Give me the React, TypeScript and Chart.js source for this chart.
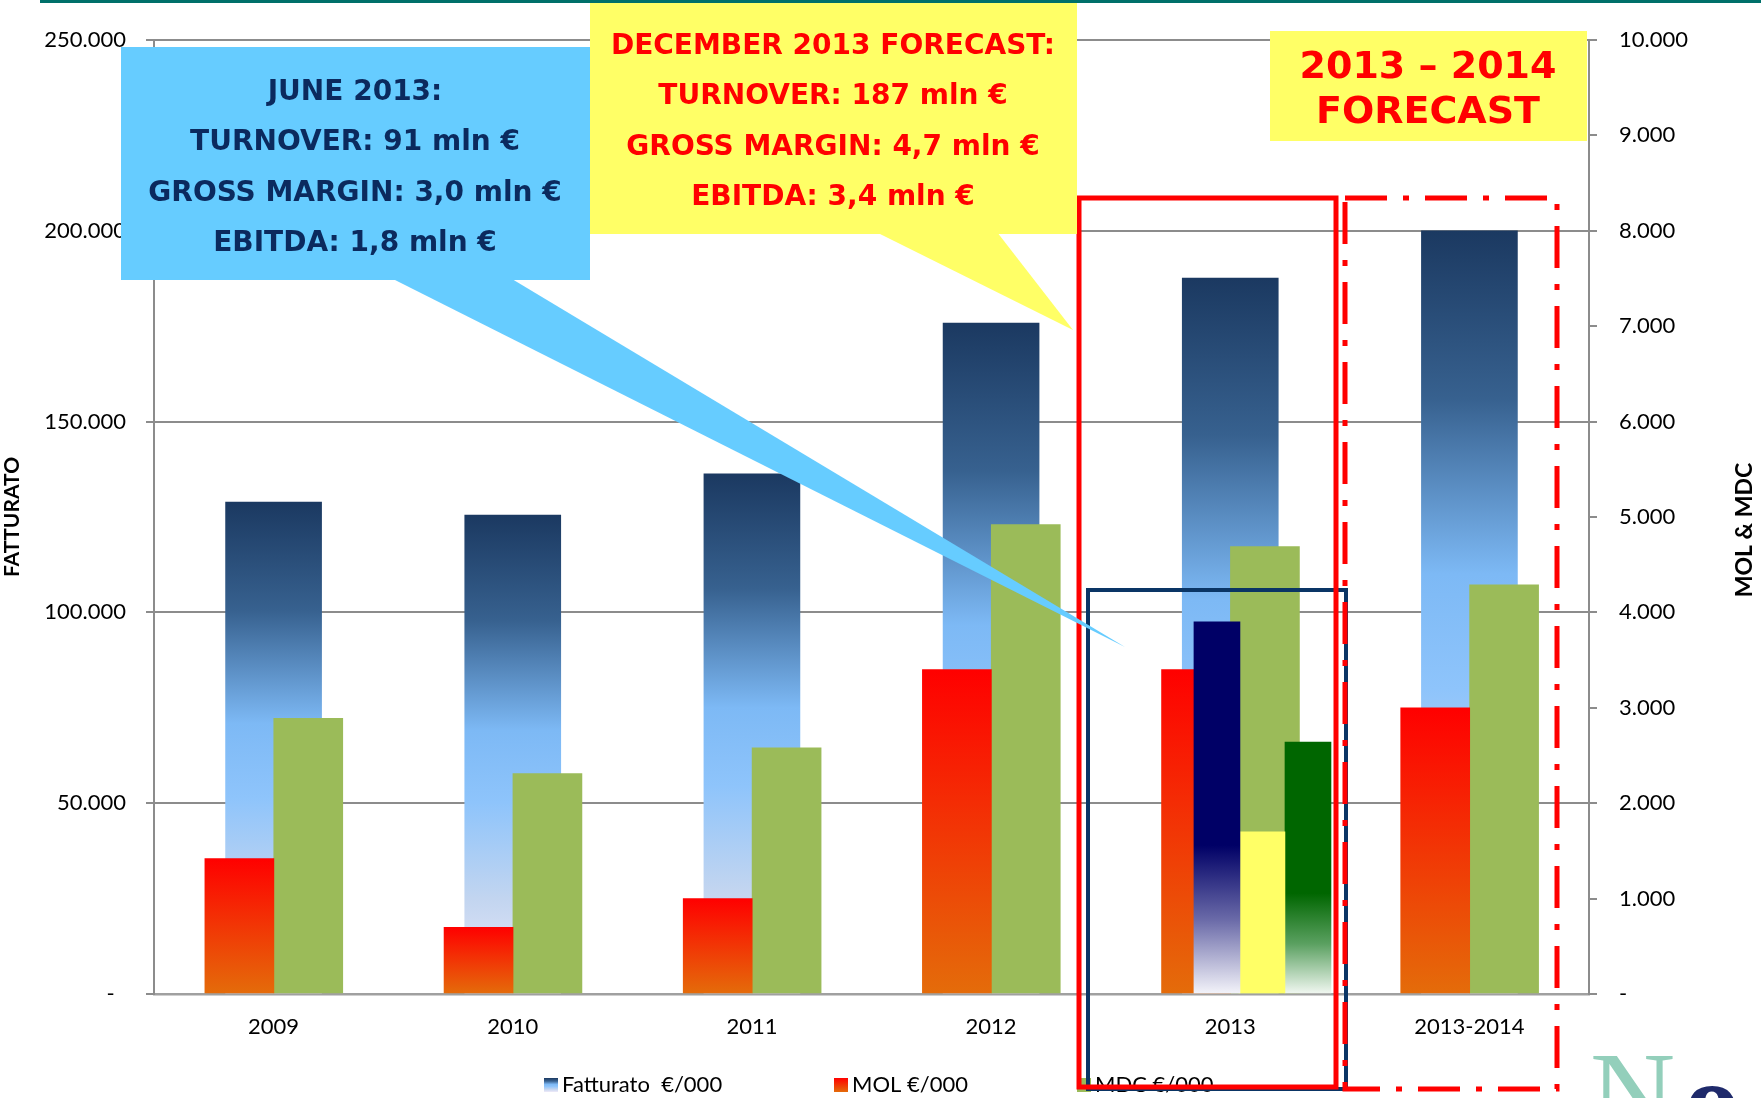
import React, { useEffect, useRef } from 'react';
import { Chart, registerables } from 'chart.js';

Chart.register(...registerables);

// ---------- data ----------
const categories = ['2009', '2010', '2011', '2012', '2013', '2013-2014'];
const fatturato = [128900, 125500, 136300, 175800, 187600, 200000];
const mol = [1420, 700, 1000, 3400, 3400, 3000];
const mdc = [2890, 2310, 2580, 4920, 4690, 4290];

// June 2013 overlay bars (drawn on the 2013 category)
const juneCategory = '2013';
const juneTurnover = [97500];
const juneEbitda = [1700];
const juneMargin = [2640];

const leftMax = 250000;
const leftStep = 50000;
const rightMax = 10000;
const rightStep = 1000;

const seriesLabels = ['Fatturato  €/000', 'MOL €/000', 'MDC €/000'];
const leftTitle = 'FATTURATO';
const rightTitle = 'MOL & MDC';
const blueNote = ['JUNE 2013:', 'TURNOVER: 91 mln €', 'GROSS MARGIN: 3,0 mln €', 'EBITDA: 1,8 mln €'];
const yellowNote = ['DECEMBER 2013 FORECAST:', 'TURNOVER: 187 mln €', 'GROSS MARGIN: 4,7 mln €', 'EBITDA: 3,4 mln €'];
const forecastNote = ['2013 – 2014', 'FORECAST'];

// ---------- styles ----------
const W = 1761;
const H = 1098;

const fattStops: [number, string][] = [
  [0, '#1b3961'],
  [0.22, '#37618f'],
  [0.45, '#7db9f5'],
  [0.6, '#8ec4fb'],
  [0.8, '#c2d5f0'],
  [1, '#efeaf8'],
];
const molStops: [number, string][] = [
  [0, '#ff0000'],
  [1, '#e46c0a'],
];
const navyStops: [number, string][] = [
  [0, '#000066'],
  [0.6, '#000066'],
  [0.8, '#6a6aa8'],
  [1, '#f4f4fa'],
];
const greenStops: [number, string][] = [
  [0, '#006600'],
  [0.6, '#006600'],
  [0.8, '#5aa060'],
  [1, '#f2f8f2'],
];

function vGrad(stops: [number, string][]) {
  return (c: any) => {
    const chart = c.chart;
    if (!chart.chartArea || c.type !== 'data' || !c.parsed) return stops[0][1];
    const ds = chart.data.datasets[c.datasetIndex];
    const ys = chart.scales[ds.yAxisID];
    const top = ys.getPixelForValue(c.parsed.y);
    const bot = ys.getPixelForValue(0);
    if (!isFinite(top) || !isFinite(bot) || Math.abs(bot - top) < 1) return stops[0][1];
    const g = chart.ctx.createLinearGradient(0, top, 0, bot);
    stops.forEach(([o, col]) => g.addColorStop(o, col));
    return g;
  };
}

// hidden linear index axis whose category centres are shifted by `shift` category widths
function shiftedAxis(shift: number) {
  return {
    type: 'linear',
    display: false,
    offset: false,
    bounds: 'data',
    grace: 0,
    min: -0.5 - shift,
    max: categories.length - 0.5 - shift,
  };
}

const asPoints = (arr: number[]) => arr.map((y, i) => ({ x: i, y }));

const dotFmt = (v: number) => String(Math.round(v)).replace(/\B(?=(\d{3})+(?!\d))/g, '.');

function drawCentered(ctx: CanvasRenderingContext2D, lines: string[], cx: number, ys: number[], font: string, color: string) {
  ctx.font = font;
  ctx.fillStyle = color;
  ctx.textAlign = 'center';
  ctx.textBaseline = 'middle';
  lines.forEach((t, i) => ctx.fillText(t, cx, ys[i]));
}

const decorPlugin = {
  id: 'decor',
  afterDraw(chart: any) {
    const ctx: CanvasRenderingContext2D = chart.ctx;
    ctx.save();

    // right axis title (reads bottom-to-top)
    ctx.save();
    ctx.translate(1745, 530);
    ctx.rotate(-Math.PI / 2);
    ctx.font = 'bold 23px Lato';
    ctx.fillStyle = '#000';
    ctx.textAlign = 'center';
    ctx.textBaseline = 'middle';
    ctx.fillText(rightTitle, 0, 0);
    ctx.restore();

    // legend
    const legendX = [544, 834, 1077];
    const ly = 1085;
    const markerFills = [fattStops, molStops, null];
    seriesLabels.forEach((lab, i) => {
      const x = legendX[i];
      const stops = markerFills[i];
      if (stops) {
        const g = ctx.createLinearGradient(0, ly - 7, 0, ly + 7);
        stops.forEach(([o, col]) => g.addColorStop(o, col));
        ctx.fillStyle = g;
      } else {
        ctx.fillStyle = '#9bbb59';
      }
      ctx.fillRect(x, ly - 7, 14, 14);
      ctx.font = '22px Lato';
      ctx.fillStyle = '#000';
      ctx.textAlign = 'left';
      ctx.textBaseline = 'middle';
      ctx.fillText(lab, x + 18, ly);
    });

    // navy box around June 2013 bars
    ctx.strokeStyle = '#0a3565';
    ctx.lineWidth = 4;
    ctx.strokeRect(1088, 590, 258, 499);

    // red solid box (2013)
    ctx.strokeStyle = '#ff0000';
    ctx.lineWidth = 5;
    ctx.strokeRect(1079, 198, 257, 889);

    // red dash-dot box (2013-2014)
    ctx.setLineDash([42, 16, 6, 16]);
    ctx.strokeRect(1345, 198, 212, 891);
    ctx.setLineDash([]);

    // blue callout
    ctx.fillStyle = '#66ccff';
    ctx.beginPath();
    ctx.moveTo(393, 279);
    ctx.lineTo(512, 279);
    ctx.lineTo(1125, 647);
    ctx.closePath();
    ctx.fill();
    ctx.fillRect(121, 47, 469, 233);
    drawCentered(ctx, blueNote, 355, [93, 143, 194, 244], 'bold 28px "DejaVu Sans"', '#0b2a5e');

    // yellow callout
    ctx.fillStyle = '#ffff66';
    ctx.beginPath();
    ctx.moveTo(876, 232);
    ctx.lineTo(997, 232);
    ctx.lineTo(1073, 330);
    ctx.closePath();
    ctx.fill();
    ctx.fillRect(590, 0, 487, 234);
    drawCentered(ctx, yellowNote, 833, [47, 97, 148, 198], 'bold 28px "DejaVu Sans"', '#ff0000');

    // forecast label
    ctx.fillStyle = '#ffff66';
    ctx.fillRect(1270, 31, 317, 110);
    drawCentered(ctx, forecastNote, 1428, [68, 113], 'bold 38px "DejaVu Sans"', '#ff0000');

    // logo fragment bottom-right
    ctx.textAlign = 'left';
    ctx.textBaseline = 'alphabetic';
    ctx.font = '118px "Liberation Serif"';
    ctx.fillStyle = '#93cfbb';
    ctx.fillText('N', 1590, 1134);
    ctx.font = 'bold 112px "Liberation Serif"';
    ctx.fillStyle = '#1f2a6b';
    ctx.fillText('o', 1684, 1139);

    // teal rule at top
    ctx.fillStyle = '#00706a';
    ctx.fillRect(40, 0, W - 40, 3);

    ctx.restore();
  },
};

export default function App() {
  const ref = useRef<HTMLCanvasElement>(null);

  useEffect(() => {
    if (!ref.current) return;
    Chart.defaults.font.family = 'Lato';
    Chart.defaults.color = '#000';
    const juneIdx = categories.indexOf(juneCategory);

    const chart = new Chart(ref.current, {
      type: 'bar',
      data: {
        labels: categories,
        datasets: [
          {
            label: seriesLabels[0],
            data: fatturato,
            xAxisID: 'x',
            yAxisID: 'y',
            backgroundColor: vGrad(fattStops),
            grouped: false,
            barThickness: 96,
            order: 3,
          },
          {
            label: seriesLabels[1],
            data: asPoints(mol),
            xAxisID: 'xMol',
            yAxisID: 'y1',
            backgroundColor: vGrad(molStops),
            grouped: false,
            barThickness: 69,
            order: 2,
          },
          {
            label: seriesLabels[2],
            data: asPoints(mdc),
            xAxisID: 'xMdc',
            yAxisID: 'y1',
            backgroundColor: '#9bbb59',
            grouped: false,
            barThickness: 69,
            order: 2,
          },
          {
            label: 'Fatturato giugno 2013',
            data: [{ x: juneIdx, y: juneTurnover[0] }],
            xAxisID: 'xNavy',
            yAxisID: 'y',
            backgroundColor: vGrad(navyStops),
            grouped: false,
            barThickness: 46,
            order: 1,
          },
          {
            label: 'MOL giugno 2013',
            data: [{ x: juneIdx, y: juneEbitda[0] }],
            xAxisID: 'xYellow',
            yAxisID: 'y1',
            backgroundColor: '#ffff66',
            grouped: false,
            barThickness: 46,
            order: 1,
          },
          {
            label: 'MDC giugno 2013',
            data: [{ x: juneIdx, y: juneMargin[0] }],
            xAxisID: 'xGreen',
            yAxisID: 'y1',
            backgroundColor: vGrad(greenStops),
            grouped: false,
            barThickness: 46,
            order: 1,
          },
        ] as any,
      },
      options: {
        responsive: false,
        animation: false,
        devicePixelRatio: 1,
        layout: { padding: { top: 40, left: 0, right: 0, bottom: 0 } },
        plugins: {
          legend: { display: false },
          tooltip: { enabled: false },
        },
        scales: {
          x: {
            type: 'category',
            labels: categories,
            offset: true,
            grid: { display: false },
            border: { display: true, color: '#a0a0a0', width: 2.5 },
            ticks: { font: { size: 22 }, color: '#000', padding: 12, maxRotation: 0, autoSkip: false },
            afterFit: (s: any) => {
              s.height = 104;
            },
          },
          xMol: shiftedAxis(-0.143),
          xMdc: shiftedAxis(0.145),
          xNavy: shiftedAxis(-0.0556),
          xYellow: shiftedAxis(0.1325),
          xGreen: shiftedAxis(0.325),
          y: {
            position: 'left',
            min: 0,
            max: leftMax,
            ticks: {
              stepSize: leftStep,
              font: { size: 22 },
              color: '#000',
              padding: 20,
              callback: (v: any) => (Number(v) === 0 ? '-  ' : dotFmt(Number(v))),
            },
            grid: { color: '#8c8c8c', lineWidth: 2, tickLength: 8 },
            border: { display: true, color: '#8c8c8c', width: 2 },
            title: {
              display: true,
              text: leftTitle,
              font: { size: 21, weight: 'bold' },
              color: '#000',
              padding: 0,
            },
            afterFit: (s: any) => {
              s.width = 154;
            },
          },
          y1: {
            position: 'right',
            min: 0,
            max: rightMax,
            ticks: {
              stepSize: rightStep,
              font: { size: 22 },
              color: '#000',
              padding: 22,
              callback: (v: any) => (Number(v) === 0 ? '-' : dotFmt(Number(v))),
            },
            grid: { drawOnChartArea: false, color: '#8c8c8c', lineWidth: 2, tickLength: 8 },
            border: { display: true, color: '#8c8c8c', width: 2 },
            afterFit: (s: any) => {
              s.width = W - 1589;
            },
          },
        } as any,
      },
      plugins: [decorPlugin],
    });

    return () => chart.destroy();
  }, []);

  return (
    <div style={{ position: 'fixed', left: 0, top: 0, width: W, height: H, background: '#fff' }}>
      <canvas ref={ref} width={W} height={H} style={{ width: W, height: H, display: 'block' }} />
    </div>
  );
}
